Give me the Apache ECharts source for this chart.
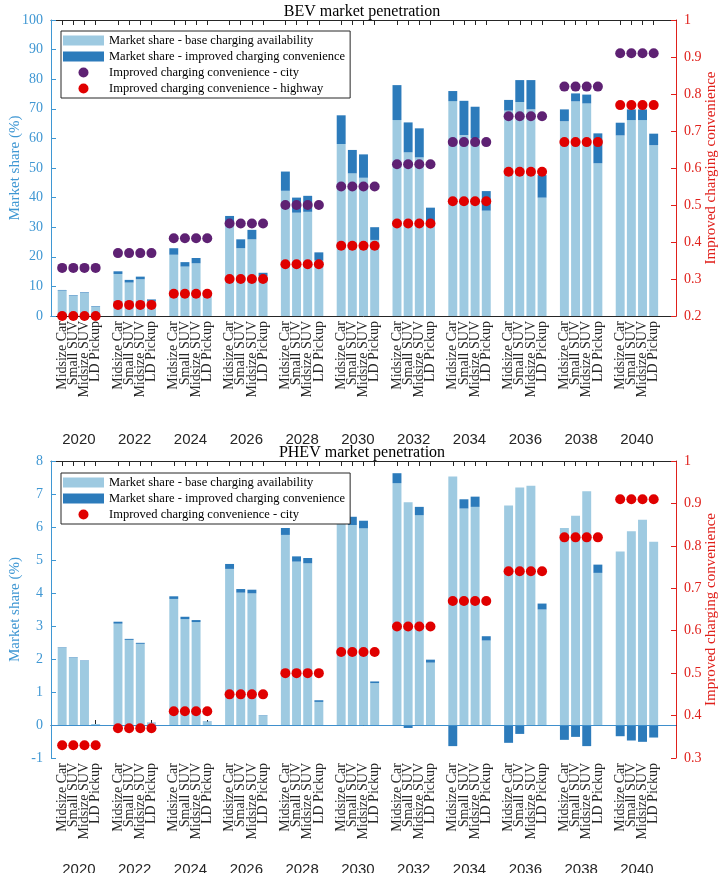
<!DOCTYPE html>
<html><head><meta charset="utf-8">
<script src="https://cdn.jsdelivr.net/npm/echarts@6/dist/echarts.min.js"></script>
<style>html,body{margin:0;padding:0;background:#fff}#c{width:724px;height:873px}</style>
</head><body><div id="c"></div>
<script>
const years = [2020, 2022, 2024, 2026, 2028, 2030, 2032, 2034, 2036, 2038, 2040];
const vehicles = ['Midsize Car', 'Small SUV', 'Midsize SUV', 'LD Pickup'];

// BEV market share (%), 4 vehicles per year in order of `vehicles`
const bevBase = [
  8.6, 6.8, 7.8, 3.1,
  14.2, 11.3, 12.4, 5.1,
  20.7, 16.7, 17.8, 6.9,
  31.3, 22.9, 25.9, 13.5,
  42.3, 34.9, 35.2, 18.7,
  58.1, 48.2, 46.7, 25.7,
  66.2, 55.3, 53.6, 31.9,
  72.6, 61.1, 60.0, 35.6,
  69.4, 72.3, 69.8, 40.0,
  65.8, 72.5, 71.8, 51.6,
  61.0, 66.2, 66.2, 57.7
];
const bevImproved = [
  0.2, 0.2, 0.2, 0.2,
  0.9, 0.9, 0.9, 0.5,
  2.2, 1.5, 1.8, 0.4,
  2.5, 3.0, 3.2, 1.1,
  6.5, 5.1, 5.4, 2.8,
  9.7, 7.9, 7.9, 4.3,
  11.8, 10.1, 9.8, 4.7,
  3.4, 11.6, 10.7, 6.6,
  3.6, 7.4, 9.9, 7.6,
  4.0, 2.7, 3.0, 10.1,
  4.3, 3.6, 3.6, 3.9
];
// improved charging convenience, one value per year
const bevCity = [0.33, 0.37, 0.41, 0.45, 0.50, 0.55, 0.61, 0.67, 0.74, 0.82, 0.91];
const bevHighway = [0.20, 0.23, 0.26, 0.30, 0.34, 0.39, 0.45, 0.51, 0.59, 0.67, 0.77];

// PHEV market share (%)
const phevBase = [
  2.35, 2.05, 1.95, 0.03,
  3.07, 2.58, 2.46, 0.06,
  3.82, 3.21, 3.12, 0.10,
  4.73, 4.01, 3.99, 0.29,
  5.76, 4.95, 4.90, 0.70,
  6.18, 6.06, 5.96, 1.27,
  7.33, 6.75, 6.36, 1.89,
  7.53, 6.56, 6.61, 2.56,
  6.65, 7.20, 7.25, 3.50,
  5.97, 6.34, 7.08, 4.61,
  5.26, 5.87, 6.22, 5.55
];
const phevImproved = [
  0.01, 0.01, 0.01, 0.0,
  0.06, 0.03, 0.03, 0.01,
  0.08, 0.07, 0.06, 0.01,
  0.15, 0.11, 0.11, 0.01,
  0.21, 0.16, 0.16, 0.05,
  0.14, 0.25, 0.23, 0.05,
  0.30, -0.09, 0.25, 0.09,
  -0.64, 0.28, 0.31, 0.13,
  -0.54, -0.27, 0.0, 0.18,
  -0.45, -0.36, -0.64, 0.25,
  -0.34, -0.47, -0.51, -0.38
];
const phevCity = [0.33, 0.37, 0.41, 0.45, 0.50, 0.55, 0.61, 0.67, 0.74, 0.82, 0.91];

const bevTicks = {min: 0, max: 100, interval: 10};
const bevRightTicks = {min: 0.2, max: 1, interval: 0.1};
const phevTicks = {min: -1, max: 8, interval: 1};
const phevRightTicks = {min: 0.3, max: 1, interval: 0.1};

// ---- slot structure: each year = 4 bars + 1 gap; positions 0..56 ----
const nSlots = years.length * 5 + 2; // 57 points (0..56)
const slotLabels = new Array(nSlots).fill('');
const slotOf = [];
years.forEach((y, yi) => vehicles.forEach((v, vi) => {
  const s = 1 + yi * 5 + vi;
  slotLabels[s] = v;
  slotOf.push(s);
}));
// one label track per vehicle type (labels are 5 slots apart, so they never collide)
const vehicleTracks = vehicles.map((v, vi) => {
  const arr = new Array(nSlots).fill('');
  years.forEach((y, yi) => { arr[1 + yi * 5 + vi] = v; });
  return arr;
});
const yearSlots = new Array(nSlots - 1).fill('');
years.forEach((y, yi) => { yearSlots[2 + yi * 5] = String(y); });

function toSlots(arr) {
  const out = new Array(nSlots).fill(null);
  arr.forEach((v, i) => { out[slotOf[i]] = v; });
  return out;
}
function dotsToSlots(perYear) {
  const out = new Array(nSlots).fill(null);
  perYear.forEach((v, yi) => vehicles.forEach((_, vi) => { out[1 + yi * 5 + vi] = v; }));
  return out;
}

const C_LIGHT = '#9ECAE1', C_DARK = '#2C7BBB', C_PURPLE = '#5E2173', C_RED = '#E00000';
const C_LEFT = '#3F97D3', C_RIGHT = '#E0201B', C_AX = '#262626';
const SERIF = '"Liberation Serif", "Times New Roman", serif';
const SANS = '"Liberation Sans", Arial, sans-serif';

const grids = [
  {left: 51, right: 48, top: 20, height: 296, outerBoundsMode: 'none', containLabel: false},
  {left: 51, right: 48, top: 461, height: 297, outerBoundsMode: 'none', containLabel: false}
];
const showTick = (i, v) => v !== '';

function xAxesFor(g, yearMargin) {
  const axes = [
    {type: 'category', gridIndex: g, data: slotLabels, boundaryGap: false, position: 'bottom',
      axisLine: {lineStyle: {color: C_AX, width: 1}},
      axisTick: {inside: true, length: 5, interval: showTick, lineStyle: {color: C_AX}},
      axisLabel: {show: false}, splitLine: {show: false}},
    {type: 'category', gridIndex: g, data: slotLabels, boundaryGap: false, position: 'top',
      axisLine: {lineStyle: {color: C_AX, width: 1}},
      axisTick: {inside: true, length: 5, interval: showTick, lineStyle: {color: C_AX}},
      axisLabel: {show: false}, splitLine: {show: false}},
    {type: 'category', gridIndex: g, data: yearSlots, boundaryGap: true, position: 'bottom',
      axisLine: {show: false}, axisTick: {show: false},
      axisLabel: {interval: 0, fontFamily: SANS, fontSize: 15, color: C_AX, margin: yearMargin},
      splitLine: {show: false}}
  ];
  vehicleTracks.forEach(track => axes.push({
    type: 'category', gridIndex: g, data: track, boundaryGap: false, position: 'bottom',
    axisLine: {show: false}, axisTick: {show: false}, splitLine: {show: false},
    axisLabel: {interval: showTick, rotate: 90, fontFamily: SERIF, fontSize: 14, color: C_AX, margin: 5}
  }));
  return axes;
}
function yAxesFor(g, lt, rt) {
  return [
    {type: 'value', gridIndex: g, position: 'left', min: lt.min, max: lt.max, interval: lt.interval,
      axisLine: {show: true, lineStyle: {color: C_LEFT}},
      axisTick: {show: true, inside: true, length: 5, lineStyle: {color: C_LEFT}},
      axisLabel: {color: C_LEFT, fontFamily: SERIF, fontSize: 14, margin: 8},
      splitLine: {show: false},
      name: 'Market share (%)', nameLocation: 'middle', nameGap: 28, nameMoveOverlap: false,
      nameTextStyle: {color: C_LEFT, fontFamily: SERIF, fontSize: 15}},
    {type: 'value', gridIndex: g, position: 'right', min: rt.min, max: rt.max, interval: rt.interval,
      axisLine: {show: true, lineStyle: {color: C_RIGHT}},
      axisTick: {show: true, inside: true, length: 5, lineStyle: {color: C_RIGHT}},
      axisLabel: {color: C_RIGHT, fontFamily: SERIF, fontSize: 14, margin: 8,
        formatter: v => (Math.abs(v - 1) < 1e-9 ? '1' : v.toFixed(1))},
      splitLine: {show: false},
      name: 'Improved charging convenience', nameLocation: 'middle', nameGap: 28, nameMoveOverlap: false,
      nameTextStyle: {color: C_RIGHT, fontFamily: SERIF, fontSize: 15}}
  ];
}

const N_BASE = 'Market share - base charging availability';
const N_IMP = 'Market share - improved charging convenience';
const N_CITY = 'Improved charging convenience - city';
const N_HWY = 'Improved charging convenience - highway';

const xTop = xAxesFor(0, 116), xBot = xAxesFor(1, 104);
const BX = xTop.length; // index of bottom panel's bar axis

const dotStyle = c => ({color: c, opacity: 1});
const series = [
  {name: N_BASE, type: 'bar', xAxisIndex: 0, yAxisIndex: 0, stack: 'bev', barWidth: '80%',
    itemStyle: {color: C_LIGHT}, data: toSlots(bevBase)},
  {name: N_IMP, type: 'bar', xAxisIndex: 0, yAxisIndex: 0, stack: 'bev', barWidth: '80%',
    itemStyle: {color: C_DARK}, data: toSlots(bevImproved)},
  {name: N_CITY, type: 'scatter', xAxisIndex: 0, yAxisIndex: 1, symbolSize: 10, z: 5,
    itemStyle: dotStyle(C_PURPLE), data: dotsToSlots(bevCity)},
  {name: N_HWY, type: 'scatter', xAxisIndex: 0, yAxisIndex: 1, symbolSize: 10, z: 5,
    itemStyle: dotStyle(C_RED), data: dotsToSlots(bevHighway)},
  {name: N_BASE, type: 'bar', xAxisIndex: BX, yAxisIndex: 2, stack: 'phev', barWidth: '80%',
    itemStyle: {color: C_LIGHT}, data: toSlots(phevBase),
    markLine: {silent: true, symbol: 'none', label: {show: false},
      lineStyle: {color: '#3F8FCC', type: 'solid', width: 1}, data: [{yAxis: 0}]}},
  {name: N_IMP, type: 'bar', xAxisIndex: BX, yAxisIndex: 2, stack: 'phev', barWidth: '80%',
    itemStyle: {color: C_DARK}, data: toSlots(phevImproved)},
  {name: 'PHEV city', type: 'scatter', xAxisIndex: BX, yAxisIndex: 3, symbolSize: 10, z: 5,
    itemStyle: dotStyle(C_RED), data: dotsToSlots(phevCity)}
];

const legendCommon = {
  orient: 'vertical', backgroundColor: '#fff', borderColor: C_AX, borderWidth: 1,
  itemWidth: 41, itemHeight: 10, itemGap: 3, padding: [3, 5, 3, 2],
  textStyle: {fontFamily: SERIF, fontSize: 12.5, color: '#000', lineHeight: 13},
  selectedMode: false, z: 10
};

const option = {
  animation: false,
  backgroundColor: '#fff',
  title: [
    {text: 'BEV market penetration', left: 'center', top: -1,
      textStyle: {fontFamily: SERIF, fontSize: 16, fontWeight: 'normal', color: '#000'}},
    {text: 'PHEV market penetration', left: 'center', top: 440,
      textStyle: {fontFamily: SERIF, fontSize: 16, fontWeight: 'normal', color: '#000'}}
  ],
  grid: grids,
  xAxis: [...xTop, ...xBot],
  yAxis: [...yAxesFor(0, bevTicks, bevRightTicks), ...yAxesFor(1, phevTicks, phevRightTicks)],
  legend: [
    Object.assign({}, legendCommon, {left: 61, top: 31,
      data: [{name: N_BASE, icon: 'rect'}, {name: N_IMP, icon: 'rect'},
             {name: N_CITY, icon: 'circle'}, {name: N_HWY, icon: 'circle'}]}),
    Object.assign({}, legendCommon, {left: 61, top: 473,
      data: [{name: N_BASE, icon: 'rect'}, {name: N_IMP, icon: 'rect'},
             {name: 'PHEV city', icon: 'circle'}],
      formatter: n => (n === 'PHEV city' ? N_CITY : n)})
  ],
  series: series
};
const chart = echarts.init(document.getElementById('c'), null, {renderer: 'canvas'});
chart.setOption(option);
</script>
</body></html>
